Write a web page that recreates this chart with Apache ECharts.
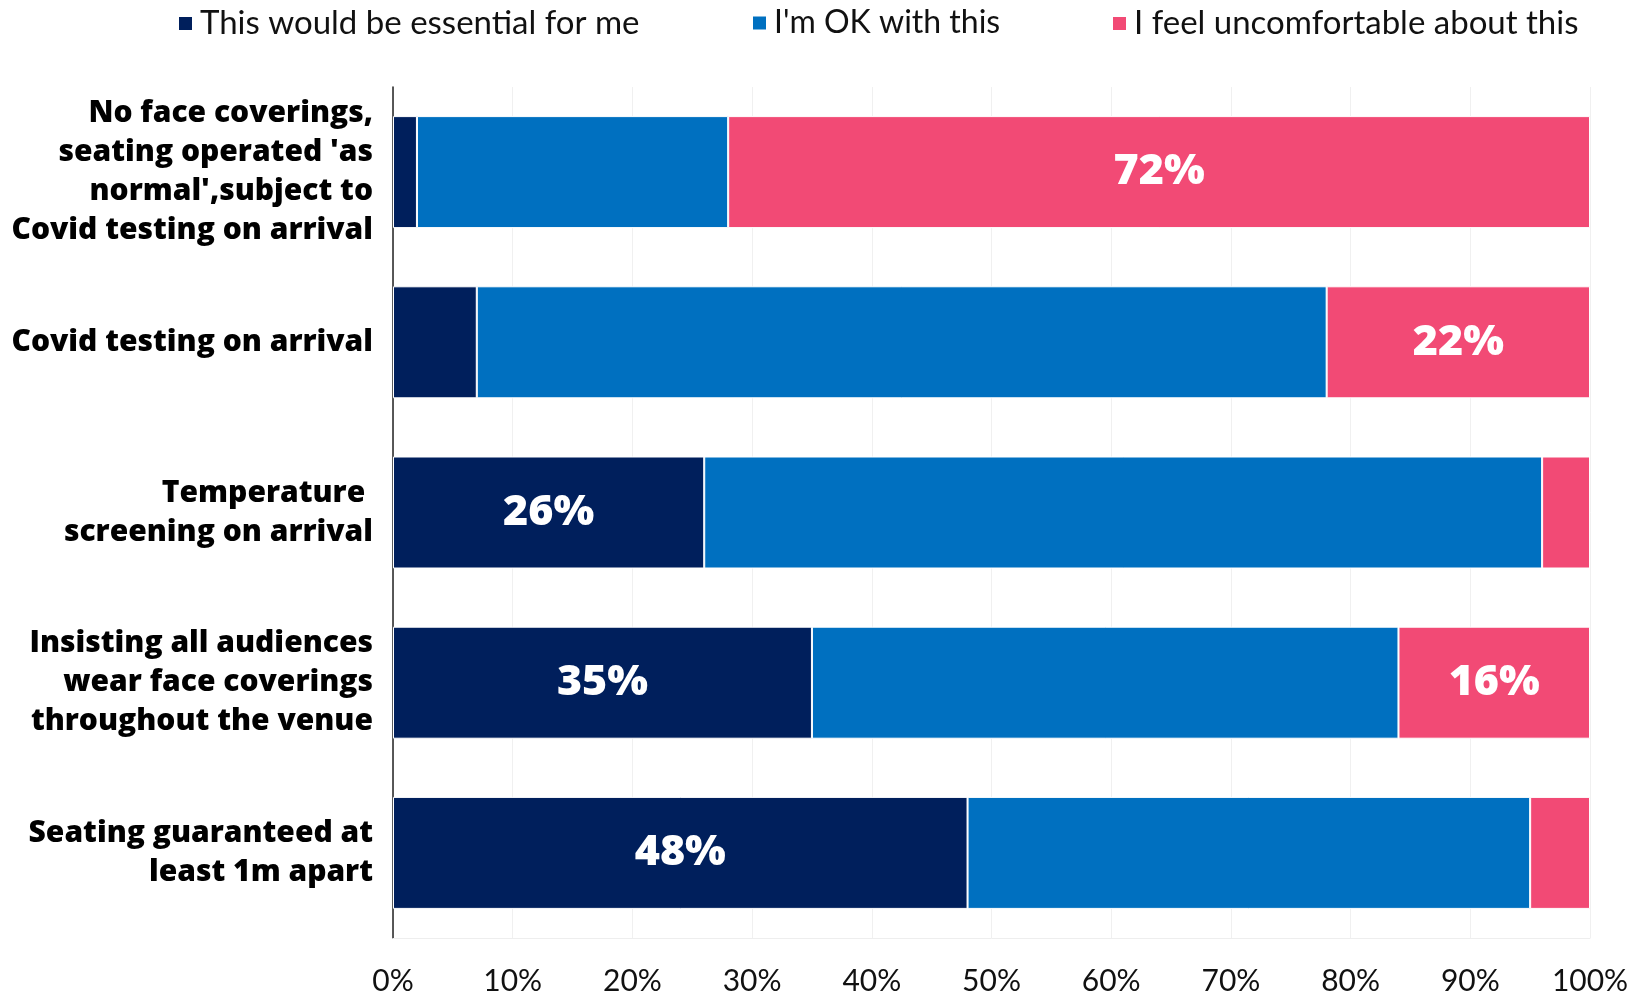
<!DOCTYPE html>
<html>
<head>
<meta charset="utf-8">
<title>Audience attitudes to venue safety measures</title>
<script src="https://cdn.jsdelivr.net/npm/echarts@6/dist/echarts.min.js"></script>
<style>
  html, body { margin: 0; padding: 0; background: #ffffff; }
  #chart { width: 1636px; height: 997px; }
</style>
</head>
<body>
<div id="chart"></div>
<script>
// Measures, listed top to bottom
const categories = [
  "No face coverings,\nseating operated 'as\nnormal',subject to\nCovid testing on arrival",
  "Covid testing on arrival",
  "Temperature \nscreening on arrival",
  "Insisting all audiences\nwear face coverings\nthroughout the venue",
  "Seating guaranteed at\nleast 1m apart"
];

const seriesNames = [
  "This would be essential for me",
  "I'm OK with this",
  "I feel uncomfortable about this"
];

// Share of respondents (%) for each measure
const essential = [2, 7, 26, 35, 48];
const okWith = [26, 71, 70, 49, 47];
const uncomfortable = [72, 22, 4, 16, 5];

const xTicks = [0, 10, 20, 30, 40, 50, 60, 70, 80, 90, 100];

const colors = ["#001F5C", "#0070C0", "#F24A75"];
const FONT = "Lato";
const HEAVY = "Open Sans";

const chart = echarts.init(document.getElementById("chart"));

function valueLabel(show) {
  return {
    show: show,
    position: "inside",
    color: "#ffffff",
    fontFamily: HEAVY,
    fontWeight: 800,
    fontSize: 43,
    formatter: p => (p.value >= 10 ? p.value + "%" : "")
  };
}

function makeSeries(idx, data, showLabel) {
  return {
    name: seriesNames[idx],
    type: "bar",
    stack: "total",
    barWidth: 112,
    data: data,
    itemStyle: { color: colors[idx], borderColor: "#ffffff", borderWidth: 1 },
    label: valueLabel(showLabel),
    emphasis: { disabled: true }
  };
}

function legendItem(idx, left, size) {
  return {
    top: 2,
    left: left,
    itemWidth: 15,
    itemHeight: 15,
    icon: "rect",
    itemGap: 0,
    data: [seriesNames[idx]],
    selectedMode: false,
    textStyle: { fontFamily: FONT, fontSize: size, color: "#111111", padding: [0, 0, 0, 2] }
  };
}

chart.setOption({
  animation: false,
  legend: [legendItem(0, 172, 33), legendItem(1, 746, 32), legendItem(2, 1106, 33)],
  grid: { left: 393, right: 46, top: 87, bottom: 59, containLabel: false },
  xAxis: {
    type: "value",
    min: xTicks[0],
    max: xTicks[xTicks.length - 1],
    interval: xTicks[1] - xTicks[0],
    axisLine: { show: true, lineStyle: { color: "#eeeeee", width: 1 } },
    axisTick: { show: false },
    splitLine: { show: true, lineStyle: { color: "#f0f0f0", width: 1 } },
    axisLabel: {
      margin: 28,
      fontFamily: FONT,
      fontSize: 30,
      color: "#111111",
      formatter: v => v + "%"
    }
  },
  yAxis: {
    type: "category",
    inverse: true,
    data: categories,
    axisLine: { show: true, lineStyle: { color: "#222222", width: 1.5 } },
    axisTick: { show: false },
    splitLine: { show: false },
    axisLabel: {
      margin: 20,
      fontFamily: HEAVY,
      fontWeight: 800,
      fontSize: 30,
      lineHeight: 39,
      color: "#000000",
      align: "right"
    }
  },
  series: [
    makeSeries(0, essential, true),
    makeSeries(1, okWith, false),
    makeSeries(2, uncomfortable, true)
  ]
});
</script>
</body>
</html>
